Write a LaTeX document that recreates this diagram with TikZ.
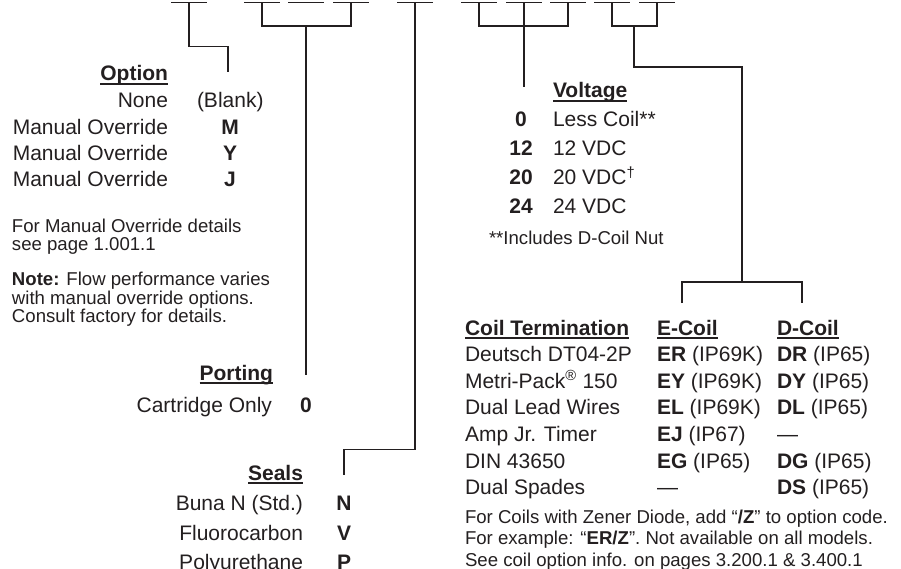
\documentclass[tikz,border=0pt]{standalone}
\usepackage{fontspec}
\setmainfont{Liberation Sans}
\usepackage{tikz}

\definecolor{ink}{HTML}{231F20}
\newcommand{\ulhead}[1]{\setbox0\hbox{\bfseries #1}\rlap{\rule[-3.6pt]{\wd0}{1.3pt}}\box0}

\begin{document}
\begin{tikzpicture}
		[
			x=1pt, y=-1pt,
			every node/.style={inner sep=0pt, outer sep=0pt, text=ink, font=\fontsize{21}{25}\selectfont},
			small/.style={font=\fontsize{18.6}{20}\selectfont},
			code/.style={anchor=base, font=\fontsize{21}{25}\selectfont\bfseries},
			lead/.style={draw=ink, line width=1.2pt},
			blank/.style={draw=ink, line width=1.4pt}
		]

		\useasboundingbox (0,0) rectangle (901,569);

		% blanks of the model code
		\foreach \bx [count=\i] in {171,244,288,333,397,461,506,550,594,639}
		{
			\draw[blank] (\bx,2.5) -- ++(36,0);
			\coordinate (b\i) at (\bx+18,2.5);
		}

		% Option
		\node (opthead) [anchor=base east] at (168,81) {\ulhead{Option}};
		\node (optnone) [anchor=base east] at (168,108) {None};
		\node (optblank) [anchor=base west] at (197,108) {(Blank)};
		\foreach \c [count=\i] in {M,Y,J}
		{
			\node (optmo\i) [anchor=base east] at (168,108+26.3*\i) {Manual Override};
			\node (optc\i) [code] at (230,108+26.3*\i) {\c};
		}
		\node (optref1) [small, anchor=base west] at (12,233) {For Manual Override details};
		\node (optref2) [small, anchor=base west] at (12,251) {see page 1.001.1};
		\node (optnote1) [small, anchor=base west] at (12,285) {\textbf{Note:} Flow performance varies};
		\node (optnote2) [small, anchor=base west] at (12,304) {with manual override options.};
		\node (optnote3) [small, anchor=base west] at (12,322) {Consult factory for details.};

		% Porting
		\node (porthead) [anchor=base east] at (273,380) {\ulhead{Porting}};
		\node (portcart) [anchor=base east] at (272,412) {Cartridge Only};
		\node (portc) [code] at (306,412) {0};

		% Seals
		\node (sealhead) [anchor=base east] at (303,480) {\ulhead{Seals}};
		\node (sealbuna) [anchor=base east] at (303,510) {Buna N (Std.)};
		\node (sealfluo) [anchor=base east] at (303,540) {Fluorocarbon};
		\node (sealpoly) [anchor=base east] at (303,569) {Polyurethane};
		\node (sealc1) [code] at (344,510) {N};
		\node (sealc2) [code] at (344,540) {V};
		\node (sealc3) [code] at (344,569) {P};

		% Voltage
		\node (volthead) [anchor=base west] at (553,98) {\ulhead{Voltage}};
		\foreach \c/\v [count=\i] in {0/Less Coil**,12/12 VDC,20/20 VDC\textsuperscript{\textdagger},24/24 VDC}
		{
			\node (voltc\i) [code] at (521,98+29*\i) {\c};
			\node (volt\i) [anchor=base west] at (553,98+29*\i) {\v};
		}
		\node (voltnote) [small, anchor=base west] at (489,244) {**Includes D-Coil Nut};

		% Coil termination
		\node (coilhead) [anchor=base west] at (465,335) {\ulhead{Coil Termination}};
		\node (ecoilhead) [anchor=base west] at (657,335) {\ulhead{E-Coil}};
		\node (dcoilhead) [anchor=base west] at (777,335) {\ulhead{D-Coil}};
		\foreach \t/\e/\d [count=\i] in {
			Deutsch DT04-2P/\textbf{ER} (IP69K)/\textbf{DR} (IP65),
			Metri-Pack\textsuperscript{®} 150/\textbf{EY} (IP69K)/\textbf{DY} (IP65),
			Dual Lead Wires/\textbf{EL} (IP69K)/\textbf{DL} (IP65),
			Amp Jr. Timer/\textbf{EJ} (IP67)/—,
			DIN 43650/\textbf{EG} (IP65)/\textbf{DG} (IP65),
			Dual Spades/—/\textbf{DS} (IP65)}
		{
			\node (term\i) [anchor=base west] at (465,335+26.6*\i) {\t};
			\node (ecoil\i) [anchor=base west] at (657,335+26.6*\i) {\e};
			\node (dcoil\i) [anchor=base west] at (777,335+26.6*\i) {\d};
		}
		\node (coilnote1) [small, anchor=base west] at (465,523) {For Coils with Zener Diode, add “\textbf{/Z}” to option code.};
		\node (coilnote2) [small, anchor=base west] at (465,544) {For example: “\textbf{ER/Z}”. Not available on all models.};
		\node (coilnote3) [small, anchor=base west] at (465,566) {See coil option info. on pages 3.200.1 \& 3.400.1};

		% connectors
		\coordinate (optend) at (228,72);
		\coordinate (portmid) at (306,26);
		\coordinate (portend) at (306,375);
		\coordinate (sealend) at (344,475);
		\coordinate (voltend) at (524,87);
		\coordinate (coilmid) at (634,26);
		\coordinate (coiljoin) at (742,282);
		\coordinate (ecoilend) at (682,303);
		\coordinate (dcoilend) at (802,303);

		\draw[lead] (b1) -- ++(0,44) -| (optend);
		\draw[lead] (b2) -- ++(0,23.5) -| (b4);
		\draw[lead] (portmid) -- (portend);
		\draw[lead] (b5) -- ++(0,447) -| (sealend);
		\draw[lead] (b6) -- ++(0,23.5) -| (b8);
		\draw[lead] (b7) -- (voltend);
		\draw[lead] (b9) -- ++(0,23.5) -| (b10);
		\draw[lead] (coilmid) -- ++(0,41) -| (coiljoin);
		\draw[lead] (ecoilend) |- (coiljoin) -| (dcoilend);
	\end{tikzpicture}
\end{document}
